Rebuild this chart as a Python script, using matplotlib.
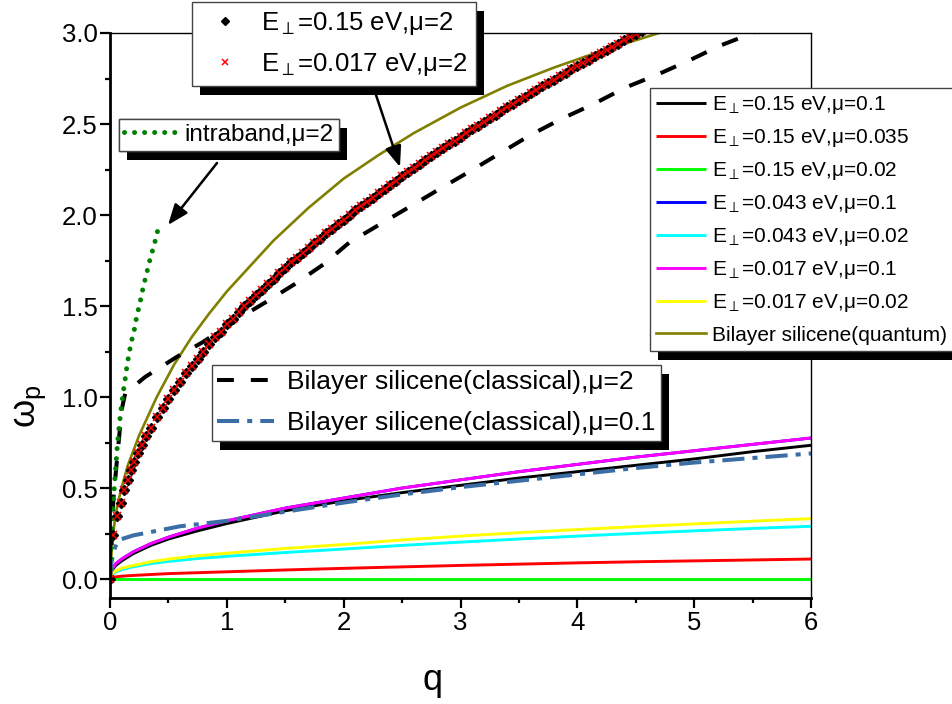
import matplotlib
matplotlib.use('Agg')
import matplotlib.pyplot as plt
from matplotlib.patches import Rectangle
from matplotlib.transforms import IdentityTransform
from matplotlib.lines import Line2D
from matplotlib.ticker import MultipleLocator, FormatStrFormatter

plt.rcParams['font.family'] = ['Liberation Sans', 'DejaVu Sans']
plt.rcParams['mathtext.fontset'] = 'custom'
plt.rcParams['mathtext.rm'] = 'Liberation Sans'
plt.rcParams['mathtext.it'] = 'Liberation Sans:italic'
plt.rcParams['mathtext.bf'] = 'Liberation Sans:bold'
plt.rcParams['mathtext.fallback'] = 'stixsans'

# ---------------- data ----------------
q_grid = [0, 0.02, 0.05, 0.1, 0.2, 0.35, 0.5, 0.75, 1, 1.5, 2, 2.5, 3, 3.5, 4, 4.5, 5, 5.5, 6]
w_E015_mu01 = [0, 0.05, 0.075, 0.1, 0.14, 0.185, 0.22, 0.265, 0.305, 0.375, 0.43, 0.475, 0.515, 0.555, 0.59, 0.625, 0.66, 0.70, 0.735]
w_E015_mu0035 = [0, 0.008, 0.012, 0.016, 0.02, 0.025, 0.03, 0.035, 0.04, 0.05, 0.059, 0.067, 0.075, 0.082, 0.089, 0.095, 0.10, 0.105, 0.11]
w_E015_mu002 = [0] * 19
w_E0043_mu01 = [0, 0.055, 0.085, 0.11, 0.15, 0.195, 0.23, 0.28, 0.32, 0.39, 0.445, 0.50, 0.545, 0.59, 0.63, 0.67, 0.705, 0.74, 0.775]
w_E0043_mu002 = [0, 0.025, 0.04, 0.052, 0.068, 0.085, 0.097, 0.113, 0.125, 0.146, 0.165, 0.185, 0.203, 0.22, 0.236, 0.251, 0.265, 0.278, 0.29]
w_E0017_mu01 = [0, 0.055, 0.085, 0.11, 0.15, 0.195, 0.23, 0.28, 0.32, 0.39, 0.445, 0.50, 0.545, 0.59, 0.63, 0.67, 0.705, 0.74, 0.775]
w_E0017_mu002 = [0, 0.03, 0.045, 0.06, 0.075, 0.095, 0.11, 0.128, 0.142, 0.168, 0.19, 0.215, 0.236, 0.255, 0.272, 0.288, 0.303, 0.318, 0.332]

q_quantum = [0, 0.02, 0.05, 0.09, 0.15, 0.25, 0.4, 0.55, 0.7, 0.85, 1.0, 1.2, 1.4, 1.7, 2.0, 2.3, 2.6, 3.0, 3.4, 3.8, 4.2, 4.6, 5.0]
w_quantum = [0, 0.22, 0.36, 0.48, 0.62, 0.79, 1.00, 1.18, 1.33, 1.46, 1.58, 1.72, 1.86, 2.04, 2.20, 2.33, 2.45, 2.59, 2.71, 2.81, 2.90, 2.98, 3.06]

q_class2 = [0, 0.03, 0.1, 0.13, 0.3, 0.57, 0.79, 1.07, 1.33, 1.58, 1.83, 2.05, 2.84, 3.08, 3.34, 3.6, 3.87, 4.14, 4.41, 4.68, 4.96, 5.22, 5.5, 6.0]
w_class2 = [0, 0.45, 0.93, 1.02, 1.11, 1.22, 1.30, 1.42, 1.52, 1.62, 1.73, 1.85, 2.15, 2.24, 2.34, 2.44, 2.53, 2.61, 2.70, 2.77, 2.85, 2.93, 3.0, 3.15]

q_class01 = [0, 0.01, 0.03, 0.06, 0.1, 0.2, 0.4, 0.6, 0.8, 1.0, 1.2, 1.5, 2.0, 2.5, 3.0, 3.5, 4.0, 4.5, 5.0, 5.5, 6.0]
w_class01 = [0, 0.08, 0.15, 0.2, 0.22, 0.24, 0.265, 0.29, 0.305, 0.32, 0.34, 0.37, 0.42, 0.465, 0.505, 0.54, 0.575, 0.61, 0.64, 0.665, 0.69]

q_intra = [0, 0.005, 0.014, 0.023, 0.043, 0.06, 0.077, 0.094, 0.114, 0.128, 0.143, 0.163, 0.185, 0.208, 0.228, 0.257, 0.29, 0.31, 0.34, 0.38, 0.414]
w_intra = [0, 0.12, 0.26, 0.38, 0.56, 0.71, 0.83, 0.93, 1.03, 1.09, 1.16, 1.24, 1.31, 1.37, 1.44, 1.52, 1.62, 1.67, 1.75, 1.84, 1.93]

q_mu2 = [0, 0.023, 0.063, 0.091, 0.122, 0.151, 0.18, 0.208, 0.242, 0.277, 0.31,
         0.35, 0.40, 0.45, 0.50, 0.55, 0.60, 0.65, 0.70, 0.75, 0.80, 0.85, 0.90, 0.95,
         1.00, 1.05, 1.10, 1.15, 1.20, 1.25, 1.30, 1.35, 1.40, 1.45, 1.50, 1.55, 1.60,
         1.65, 1.70, 1.75, 1.80, 1.85, 1.90, 1.95, 2.00, 2.05, 2.10, 2.15, 2.20, 2.25,
         2.30, 2.35, 2.40, 2.45, 2.50, 2.55, 2.60, 2.65, 2.70, 2.75, 2.80, 2.85, 2.90,
         2.95, 3.00, 3.05, 3.10, 3.15, 3.20, 3.25, 3.30, 3.35, 3.40, 3.45, 3.50, 3.55,
         3.60, 3.65, 3.70, 3.75, 3.80, 3.85, 3.90, 3.95, 4.00, 4.05, 4.10, 4.15, 4.20,
         4.25, 4.30, 4.35, 4.40, 4.45, 4.50, 4.55, 4.60]
w_mu2 = [0, 0.24, 0.346, 0.42, 0.489, 0.544, 0.60, 0.645, 0.69, 0.736, 0.785,
         0.83, 0.89, 0.94, 0.99, 1.04, 1.08, 1.13, 1.17, 1.21, 1.25, 1.29, 1.33, 1.36,
         1.40, 1.43, 1.465, 1.50, 1.53, 1.56, 1.59, 1.62, 1.65, 1.68, 1.71, 1.74, 1.765,
         1.79, 1.82, 1.845, 1.87, 1.90, 1.925, 1.95, 1.975, 2.00, 2.025, 2.05, 2.071, 2.095,
         2.119, 2.143, 2.166, 2.189, 2.212, 2.235, 2.257, 2.28, 2.302, 2.324, 2.345, 2.366, 2.388,
         2.409, 2.43, 2.45, 2.471, 2.491, 2.512, 2.532, 2.552, 2.572, 2.592, 2.611, 2.631, 2.65,
         2.669, 2.688, 2.707, 2.726, 2.744, 2.763, 2.781, 2.80, 2.818, 2.836, 2.854, 2.872, 2.89,
         2.907, 2.925, 2.942, 2.96, 2.977, 2.994, 3.011, 3.028]

labels_solid = [r'E$_{\perp}$=0.15 eV,μ=0.1', r'E$_{\perp}$=0.15 eV,μ=0.035', r'E$_{\perp}$=0.15 eV,μ=0.02',
                r'E$_{\perp}$=0.043 eV,μ=0.1', r'E$_{\perp}$=0.043 eV,μ=0.02', r'E$_{\perp}$=0.017 eV,μ=0.1',
                r'E$_{\perp}$=0.017 eV,μ=0.02', 'Bilayer silicene(quantum)']
labels_mu2 = [r'E$_{\perp}$=0.15 eV,μ=2', r'E$_{\perp}$=0.017 eV,μ=2']
labels_class = ['Bilayer silicene(classical),μ=2', 'Bilayer silicene(classical),μ=0.1']
label_intra = 'intraband,μ=2'

colors_solid = ['#000000', '#ff0000', '#00ff00', '#0000ff', '#00ffff', '#ff00ff', '#ffff00', '#808000']
dashdot_color = '#3a6ea5'
intra_color = '#008000'

W, H = 952, 704
fig = plt.figure(figsize=(W / 100, H / 100), dpi=100)
ax = fig.add_axes([110 / W, 1 - 598 / H, (811 - 110) / W, (598 - 33) / H])

series = [w_E015_mu01, w_E015_mu0035, w_E015_mu002, w_E0043_mu01, w_E0043_mu002, w_E0017_mu01, w_E0017_mu002]
solid_handles = []
for w, c in zip(series, colors_solid[:7]):
    h, = ax.plot(q_grid, w, color=c, lw=2.1, solid_capstyle='butt')
    solid_handles.append(h)
h, = ax.plot(q_quantum, w_quantum, color=colors_solid[7], lw=1.9)
solid_handles.append(h)

h_c2, = ax.plot(q_class2, w_class2, color='black', lw=2.9, dashes=(4.2, 4.2), dash_capstyle='butt')
h_c01, = ax.plot(q_class01, w_class01, color=dashdot_color, lw=2.9, dashes=(5.5, 2.0, 1.25, 2.0), dash_capstyle='butt')
h_in, = ax.plot(q_intra, w_intra, color=intra_color, lw=3.6, dashes=(0.01, 2.0), dash_capstyle='round')

ax.plot(q_mu2, w_mu2, ls='none', marker='D', ms=5, color='black', mec='black')
ax.plot(q_mu2, w_mu2, ls='none', marker='x', ms=6, color='red', mew=1.1)

ax.set_xlim(0, 6)
ax.set_ylim(-0.104, 3.0)
ax.xaxis.set_major_locator(MultipleLocator(1))
ax.xaxis.set_minor_locator(MultipleLocator(0.5))
ax.yaxis.set_major_locator(MultipleLocator(0.5))
ax.yaxis.set_minor_locator(MultipleLocator(0.25))
ax.yaxis.set_major_formatter(FormatStrFormatter('%.1f'))
ax.tick_params(which='major', direction='out', length=7, width=1.6, labelsize=18.5, pad=2, top=False, right=False)
ax.tick_params(which='minor', direction='out', length=3.5, width=1.6, top=False, right=False)
for s in ['left', 'bottom']:
    ax.spines[s].set_linewidth(2.0)
for s in ['top', 'right']:
    ax.spines[s].set_linewidth(1.0)

ax.set_xlabel('q', fontsize=26)
ax.xaxis.set_label_coords(0.46, -0.115)
ax.set_ylabel(r'ω$_\mathregular{p}$', fontsize=26)
ax.yaxis.set_label_coords(-0.088, 0.34)

legends = []


def place_legend(handles, labels, x0, y0, fontsize, **kw):
    leg = ax.legend(handles, labels, loc='upper left', bbox_to_anchor=(x0 / W, 1 - y0 / H),
                    bbox_transform=fig.transFigure, fontsize=fontsize, frameon=True, fancybox=False,
                    borderaxespad=0, framealpha=1, edgecolor='#444444', **kw)
    leg.get_frame().set_linewidth(1.0)
    leg.set_zorder(6)
    ax.add_artist(leg)
    legends.append(leg)
    return leg


# right legend
place_legend(solid_handles, labels_solid, 650, 88, 15, handlelength=2.4, handletextpad=0.3,
             labelspacing=0.53, borderpad=0.3)

# top legend (markers only)
mk1 = Line2D([], [], ls='none', marker='D', ms=4, color='black')
mk2 = Line2D([], [], ls='none', marker='x', ms=5, color='red', mew=1.1)
place_legend([mk1, mk2], labels_mu2, 192, 2, 18.5, handlelength=2.0, handletextpad=0.4,
             labelspacing=0.55, borderpad=0.3)

# classical legend
place_legend([h_c2, h_c01], labels_class, 212, 365, 19, handlelength=2.15, handletextpad=0.5,
             labelspacing=0.65, borderpad=0.2)

# intraband legend
place_legend([h_in], [label_intra], 119, 119, 17.5, handlelength=2.2, handletextpad=0.3,
             borderpad=0.2)

# arrows
ax.annotate('', xy=(168, H - 225), xycoords='figure pixels', xytext=(217, H - 163),
            textcoords='figure pixels',
            arrowprops=dict(arrowstyle='-|>,head_length=0.9,head_width=0.35', color='black', lw=1.8,
                            mutation_scale=14, shrinkA=0, shrinkB=0))
ax.annotate('', xy=(400, H - 167), xycoords='figure pixels', xytext=(374, H - 89),
            textcoords='figure pixels',
            arrowprops=dict(arrowstyle='-|>,head_length=0.9,head_width=0.35', color='black', lw=1.8,
                            mutation_scale=14, shrinkA=0, shrinkB=0))

# shadows
fig.canvas.draw()
for leg in legends:
    bb = leg.get_frame().get_window_extent()
    r = Rectangle((bb.x0 + 8, bb.y0 - 9), bb.width, bb.height, transform=IdentityTransform(),
                  facecolor='black', edgecolor='none', zorder=5.5, clip_on=False)
    ax.add_patch(r)

fig.savefig('out.png', dpi=100)
